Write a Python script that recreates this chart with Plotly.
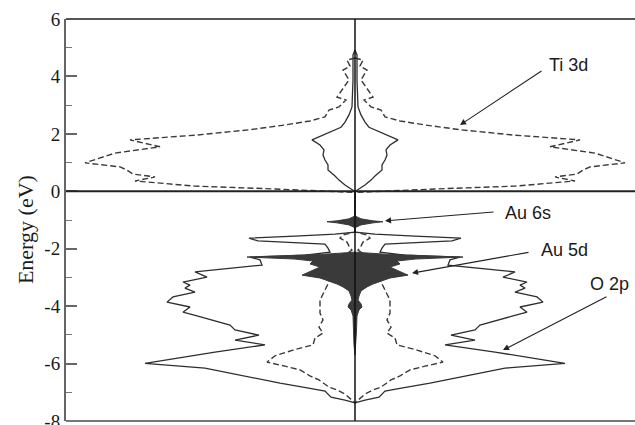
import plotly.graph_objects as go

# Energy grid (eV) and projected DOS (arb. units) for each component.
# Spin-up is drawn to the right, spin-down mirrored to the left.
ti3d_energy = [4.64, 4.57, 4.36, 4.22, 3.88, 3.60, 3.28, 3.18, 2.94, 2.83, 2.59, 2.45,
               2.31, 2.14, 1.96, 1.79, 1.55, 1.33, 1.16, 0.99, 0.85, 0.74, 0.60, 0.50,
               0.36, 0.18, 0.08, 0.01, -0.04,
               -1.42, -1.52, -1.63, -1.77, -1.91, -2.05, -2.33, -2.75, -3.09, -3.44,
               -3.79, -4.03, -4.24, -4.48, -4.73, -4.94, -5.11, -5.35, -5.53, -5.73,
               -5.95, -6.09, -6.22, -6.43, -6.57, -6.82, -6.92, -7.06, -7.20, -7.37]
ti3d_dos = [0.0, 0.8, 0.5, 1.2, 0.6, 1.2, 1.8, 0.9, 1.6, 2.6, 3.0, 4.5,
            7.0, 10.6, 15.8, 22.5, 19.5, 24.0, 25.5, 27.0, 23.5, 22.8, 22.2, 20.0,
            22.0, 16.0, 8.0, 3.0, 0.0,
            0.0, 1.2, 1.5, 0.8, 0.6, 0.3, 1.5, 2.0, 2.5, 3.0,
            3.5, 3.5, 3.5, 3.2, 3.6, 3.2, 4.0, 4.2, 6.2, 8.0,
            8.8, 7.0, 5.5, 4.5, 3.6, 2.6, 1.8, 1.0, 0.5, 0.0]

o2p_energy = [4.92, 4.75, 3.88, 3.18, 2.94, 2.66, 2.41, 2.23, 2.02, 1.86, 1.79, 1.61,
              1.44, 1.26, 1.09, 0.92, 0.74, 0.53, 0.39, 0.22, 0.05, -0.01,
              -1.42, -1.49, -1.56, -1.63, -1.73, -1.84, -1.98, -2.12, -2.22, -2.29,
              -2.39, -2.57, -2.81, -2.99, -3.16, -3.27, -3.37, -3.51, -3.68, -3.86,
              -4.03, -4.21, -4.34, -4.52, -4.66, -4.83, -5.01, -5.18, -5.35, -5.60,
              -5.81, -5.99, -6.16, -6.30, -6.51, -6.68, -6.86, -6.96, -7.17, -7.27, -7.37]
o2p_dos = [0.0, 0.2, 0.2, 0.3, 0.3, 0.6, 1.0, 1.4, 2.8, 4.0, 4.3, 3.5,
           3.1, 3.2, 3.0, 2.7, 2.7, 2.0, 1.6, 1.0, 0.3, 0.0,
           0.0, 2.0, 6.0, 10.6, 9.7, 3.0, 2.7, 2.5, 5.0, 10.5,
           9.5, 9.3, 16.0, 14.8, 17.2, 16.5, 17.0, 16.0, 18.2, 18.8,
           16.5, 17.2, 15.8, 14.0, 12.5, 12.0, 9.6, 12.0, 9.0, 14.0,
           18.0, 21.0, 15.0, 13.0, 10.0, 7.5, 4.5, 3.0, 2.4, 1.0, 0.0]

au6s_energy = [-0.86, -0.96, -1.03, -1.06, -1.10, -1.17, -1.27]
au6s_dos = [0.0, 0.6, 1.8, 2.8, 1.8, 0.6, 0.0]

au5d_energy = [-2.12, -2.19, -2.26, -2.29, -2.36, -2.43, -2.53, -2.64, -2.75, -2.85,
               -2.92, -3.02, -3.13, -3.23, -3.33, -3.47, -3.65, -3.79, -3.92, -4.03,
               -4.13, -4.34, -4.83, -5.35, -5.70]
au5d_dos = [0.0, 3.0, 8.0, 10.8, 6.0, 4.2, 4.5, 3.5, 4.2, 4.8,
            5.3, 3.5, 2.6, 1.8, 1.2, 0.6, 0.4, 0.3, 0.6, 0.7,
            0.4, 0.2, 0.15, 0.1, 0.0]

labels = ["Ti 3d", "Au 6s", "Au 5d", "O 2p"]
y_ticks = [-8, -6, -4, -2, 0, 2, 4, 6]

LINE = "#2e2e2e"
FILL = "#3a3a3a"


def mirrored(dos, energy):
    x = list(dos) + [None] + [-v for v in dos]
    y = list(energy) + [None] + list(energy)
    return x, y


def filled(dos, energy):
    x = list(dos) + [-v for v in reversed(dos)]
    y = list(energy) + list(reversed(energy))
    return x, y


fig = go.Figure()

x, y = mirrored(ti3d_dos, ti3d_energy)
fig.add_trace(go.Scatter(x=x, y=y, mode="lines", name=labels[0],
                         line=dict(color="#3a3a3a", width=1.4, dash="6px,3px")))
x, y = mirrored(o2p_dos, o2p_energy)
fig.add_trace(go.Scatter(x=x, y=y, mode="lines", name=labels[3],
                         line=dict(color=LINE, width=1.3)))
x, y = filled(au6s_dos, au6s_energy)
fig.add_trace(go.Scatter(x=x, y=y, mode="lines", name=labels[1], fill="toself",
                         fillcolor=FILL, line=dict(color=FILL, width=1)))
x, y = filled(au5d_dos, au5d_energy)
fig.add_trace(go.Scatter(x=x, y=y, mode="lines", name=labels[2], fill="toself",
                         fillcolor=FILL, line=dict(color=FILL, width=1)))

# frame: top and bottom borders, Fermi level and centre line
shapes = [
    dict(type="line", xref="paper", yref="paper", x0=0, x1=1, y0=1, y1=1,
         line=dict(color="#555555", width=2)),
    dict(type="line", xref="paper", yref="paper", x0=0, x1=1, y0=0, y1=0,
         line=dict(color="#777777", width=2)),
    dict(type="line", xref="paper", yref="y", x0=0, x1=1, y0=0, y1=0,
         line=dict(color="#222222", width=2)),
    dict(type="line", xref="x", yref="paper", x0=0, x1=0, y0=0, y1=1,
         line=dict(color="#111111", width=1.5)),
]

annotations = []
# arrows (head in data units, tail as pixel offset)
arrows = [
    (10.5, 2.31, 83, -55),
    (3.0, -1.03, 110, -9),
    (5.7, -2.85, 118, -21),
    (14.8, -5.53, 105, -54),
]
for hx, hy, ax, ay in arrows:
    annotations.append(dict(x=hx, y=hy, ax=ax, ay=ay, text="", showarrow=True,
                            arrowhead=2, arrowsize=1.1, arrowwidth=1.1,
                            arrowcolor="#222222", xref="x", yref="y"))
label_pos = [(21.35, 4.40), (17.3, -0.756), (20.9, -2.04), (25.4, -3.24)]
for text, (tx, ty) in zip(labels, label_pos):
    annotations.append(dict(x=tx, y=ty, text=text, showarrow=False, xref="x", yref="y",
                            font=dict(family="Liberation Sans", size=18, color="#1a1a1a")))
annotations.append(dict(x=-0.072, y=0.475, xref="paper", yref="paper", text="Energy (eV)",
                        textangle=-90, showarrow=False, xanchor="center", yanchor="middle",
                        font=dict(family="Liberation Serif", size=22, color="#1a1a1a")))

fig.update_layout(
    width=635, height=425,
    margin=dict(l=66, r=0, t=19, b=4, autoexpand=False),
    paper_bgcolor="white", plot_bgcolor="white",
    showlegend=False,
    shapes=shapes,
    annotations=annotations,
    xaxis=dict(range=[-28.9, 28.0], showticklabels=False, ticks="", showgrid=False,
               zeroline=False, showline=False, fixedrange=True, automargin=False),
    yaxis=dict(range=[-8, 6], tickvals=y_ticks, ticktext=[str(v) for v in y_ticks],
               ticks="inside", ticklen=11, tickwidth=1.5, tickcolor="#666666",
               showline=True, linecolor="#666666", linewidth=2, automargin=False,
               showgrid=False, zeroline=False, ticklabeloverflow="allow",
               tickfont=dict(family="Liberation Serif", size=19, color="#1a1a1a"),
               minor=dict(dtick=1, ticks="inside", ticklen=6, tickcolor="#777777",
                          tickwidth=1.2, showgrid=False)),
)

fig.write_html("out.html")
